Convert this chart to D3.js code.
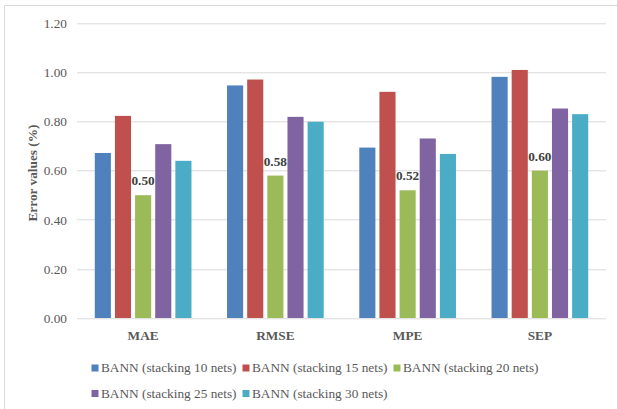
<!DOCTYPE html>
<html>
<head>
<meta charset="utf-8">
<script src="https://cdn.jsdelivr.net/npm/d3@7"></script>
<style>
  body { margin: 0; background: #fff; }
  svg { display: block; }
</style>
</head>
<body>
<svg width="617" height="409"></svg>
<script>
const categories = ["MAE", "RMSE", "MPE", "SEP"];
const seriesNames = [
  "BANN (stacking 10 nets)",
  "BANN (stacking 15 nets)",
  "BANN (stacking 20 nets)",
  "BANN (stacking 25 nets)",
  "BANN (stacking 30 nets)"
];
const stack10 = [0.672, 0.947, 0.694, 0.982];
const stack15 = [0.823, 0.971, 0.921, 1.010];
const stack20 = [0.50, 0.58, 0.52, 0.60];
const stack25 = [0.708, 0.819, 0.731, 0.853];
const stack30 = [0.640, 0.799, 0.668, 0.830];
const yTicks = [0, 0.2, 0.4, 0.6, 0.8, 1.0, 1.2];
const colors = ["#4f81bd", "#c0504d", "#9bbb59", "#8064a2", "#4bacc6"];

const seriesValues = [stack10, stack15, stack20, stack25, stack30];
const labelledSeries = 2;
const FONT = "'Liberation Serif', 'Times New Roman', serif";

const svg = d3.select("svg");
const margin = { top: 23.3, right: 11, bottom: 91, left: 77 };
const width = +svg.attr("width") - margin.left - margin.right;
const height = +svg.attr("height") - margin.top - margin.bottom;

// chart border (only top and left edges show)
svg.append("path")
  .attr("d", "M4.5,409V5.5H617")
  .attr("fill", "none")
  .attr("stroke", "#d9d9d9")
  .attr("stroke-width", 1);

const g = svg.append("g").attr("transform", `translate(${margin.left},${margin.top})`);

const x0 = d3.scaleBand().domain(categories).range([0, width]).paddingInner(0.269).paddingOuter(0.1345);
const x1 = d3.scaleBand().domain(d3.range(seriesNames.length)).range([0, x0.bandwidth()]).paddingInner(0.2);
const y = d3.scaleLinear().domain([0, 1.2]).range([height, 0]);

// gridlines
g.append("g")
  .selectAll("line")
  .data(yTicks)
  .join("line")
  .attr("x1", 0)
  .attr("x2", width)
  .attr("y1", d => Math.round(y(d)) + 0.5)
  .attr("y2", d => Math.round(y(d)) + 0.5)
  .attr("stroke", "#d9d9d9")
  .attr("stroke-width", 1);

// y axis labels
const yAxis = g.append("g")
  .call(d3.axisLeft(y).tickValues(yTicks).tickFormat(d3.format(".2f")).tickSize(0).tickPadding(10))
  .attr("font-family", FONT)
  .attr("font-size", 13.3);
yAxis.select(".domain").remove();
yAxis.selectAll("text").attr("fill", "#595959");

// bars
const groups = g.append("g")
  .selectAll("g")
  .data(categories)
  .join("g")
  .attr("transform", d => `translate(${x0(d)},0)`);

groups.selectAll("rect")
  .data((d, i) => seriesValues.map((vals, s) => ({ s, value: vals[i] })))
  .join("rect")
  .attr("x", d => x1(d.s))
  .attr("y", d => y(d.value))
  .attr("width", x1.bandwidth())
  .attr("height", d => height - y(d.value))
  .attr("fill", d => colors[d.s]);

// data labels on the 20-net series
groups.append("text")
  .datum((d, i) => stack20[i])
  .attr("x", x1(labelledSeries) + x1.bandwidth() / 2)
  .attr("y", d => y(d) - 10)
  .attr("text-anchor", "middle")
  .attr("fill", "#404040")
  .attr("font-family", FONT)
  .attr("font-size", 13.3)
  .attr("font-weight", "bold")
  .text(d => d3.format(".2f")(d));

// category labels
const xAxis = g.append("g")
  .attr("transform", `translate(0,${height})`)
  .call(d3.axisBottom(x0).tickSize(0).tickPadding(13))
  .attr("font-family", FONT)
  .attr("font-size", 13.3)
  .attr("font-weight", "bold");
xAxis.select(".domain").remove();
xAxis.selectAll("text").attr("fill", "#595959");

// y axis title
svg.append("text")
  .attr("transform", "translate(37,173) rotate(-90)")
  .attr("text-anchor", "middle")
  .attr("fill", "#595959")
  .attr("font-family", FONT)
  .attr("font-size", 13.3)
  .attr("font-weight", "bold")
  .text("Error values (%)");

// legend
const legendX = 91.5, itemW = 151, rowY = [372, 397.5];
const legend = svg.append("g")
  .selectAll("g")
  .data(seriesNames)
  .join("g")
  .attr("transform", (d, i) => `translate(${legendX + (i % 3) * itemW},${rowY[Math.floor(i / 3)]})`);

legend.append("rect")
  .attr("x", 0)
  .attr("y", -7.5)
  .attr("width", 7)
  .attr("height", 7)
  .attr("fill", (d, i) => colors[i]);

legend.append("text")
  .attr("x", 9.5)
  .attr("y", 0)
  .attr("fill", "#595959")
  .attr("font-family", FONT)
  .attr("font-size", 13.3)
  .text(d => d);
</script>
</body>
</html>
